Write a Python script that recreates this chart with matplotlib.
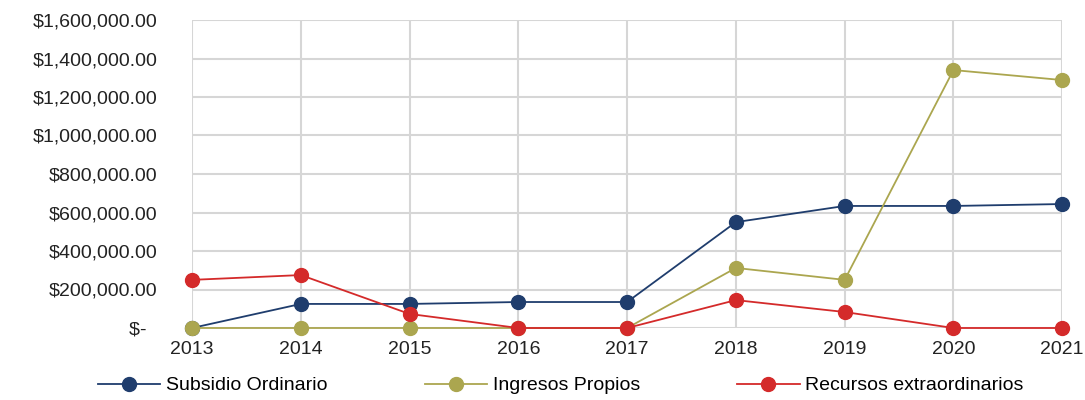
import numpy as np
import matplotlib.pyplot as plt
from matplotlib.ticker import FuncFormatter

plt.rcParams['font.family'] = ['Liberation Sans', 'DejaVu Sans']

#========data========
years = ["2013", "2014", "2015", "2016", "2017", "2018", "2019", "2020", "2021"]
subsidio = [0, 125000, 125000, 135000, 135000, 550000, 634000, 634000, 644000]
ingresos = [0, 0, 0, 0, 0, 312000, 250000, 1340000, 1288000]
recursos = [250000, 275000, 73000, 0, 0, 145000, 83000, 0, 0]

#========plot========
fig = plt.figure(figsize=(10.85, 4.0), dpi=100)
ax = fig.add_axes([0.177, 0.18, 0.802, 0.77])

x = np.arange(len(years))
ax.plot(x, subsidio, color="#1F3D6D", lw=1.3, marker="o", ms=10, label="Subsidio Ordinario", zorder=3, clip_on=False)
ax.plot(x, ingresos, color="#ABA64F", lw=1.3, marker="o", ms=10, label="Ingresos Propios", zorder=3, clip_on=False)
ax.plot(x, recursos, color="#D42A2A", lw=1.3, marker="o", ms=10, label="Recursos extraordinarios", zorder=3, clip_on=False)

def fmt(v, pos):
    if v == 0:
        return "$-  "
    return f"${v:,.2f}"

ax.set_xlim(0, len(years) - 1)
ax.set_ylim(0, 1600000)
ax.set_yticks(np.arange(0, 1600001, 200000))
ax.yaxis.set_major_formatter(FuncFormatter(fmt))
ax.set_xticks(x)
ax.set_xticklabels(years)

ax.grid(True, color="#D6D6D6", lw=1.5)
ax.set_axisbelow(True)
for s in ax.spines.values():
    s.set_visible(False)
ax.tick_params(length=0, labelsize=14, colors="#222222")
ax.tick_params(axis="y", pad=25)
ax.tick_params(axis="x", pad=9)

fig.legend(loc="lower center", bbox_to_anchor=(0.517, -0.03), ncol=3, frameon=False,
           fontsize=14, handlelength=3.2, columnspacing=5.0, handletextpad=0.3)

plt.savefig("out.png", dpi=100)
